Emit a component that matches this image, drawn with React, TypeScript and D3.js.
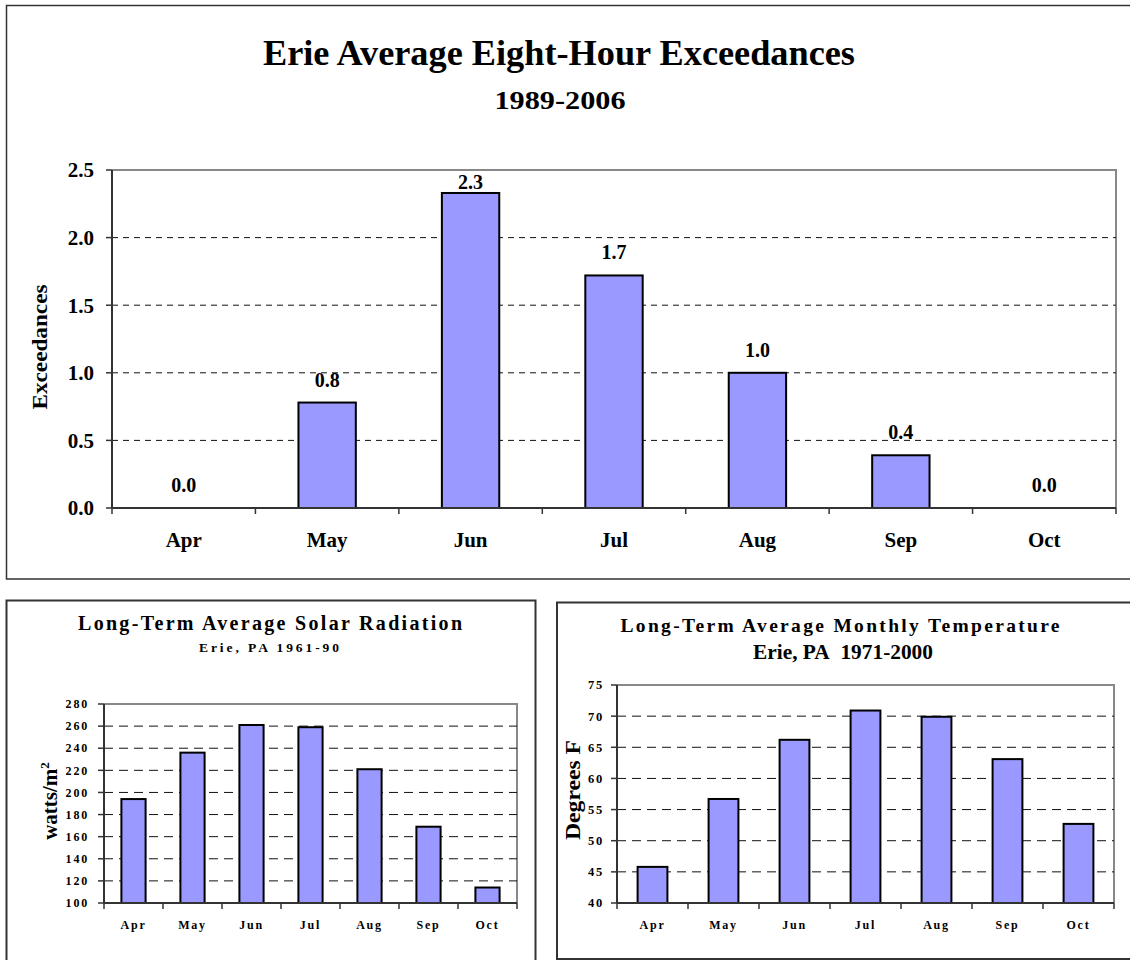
import React from "react";
import * as d3 from "d3";

const months = ["Apr", "May", "Jun", "Jul", "Aug", "Sep", "Oct"];
const exceedances = [0.0, 0.78, 2.33, 1.72, 1.0, 0.39, 0.0];
const exceedanceTicks = [0, 0.5, 1.0, 1.5, 2.0, 2.5];
const solar = [194, 236, 261, 259, 221, 169, 114];
const solarTicks = [100, 120, 140, 160, 180, 200, 220, 240, 260, 280];
const temperature = [45.8, 56.7, 66.2, 70.9, 69.9, 63.1, 52.7];
const temperatureTicks = [40, 45, 50, 55, 60, 65, 70, 75];

const FONT = "'Liberation Serif', 'Times New Roman', serif";
const BAR = "#9999FF";

type ChartProps = {
  values: number[];
  ticks: number[];
  fmt: (v: number) => string;
  plot: { l: number; r: number; t: number; b: number };
  barRatio: number;
  tickFont: number;
  tickSpacing: number;
  catFont: number;
  catY: number;
  tickLabelX: number;
  dash: string;
  barStroke: number;
  showValues?: boolean;
};

function Bars(p: ChartProps) {
  const x = d3.scaleBand<string>().domain(months).range([p.plot.l, p.plot.r]).paddingInner(0).paddingOuter(0);
  const y = d3.scaleLinear().domain([p.ticks[0], p.ticks[p.ticks.length - 1]]).range([p.plot.b, p.plot.t]);
  const bw = x.bandwidth() * p.barRatio;
  const boundaries = months.map((m) => x(m)!).concat([p.plot.r]);
  return (
    <g>
      <path d={`M${p.plot.l},${p.plot.t}H${p.plot.r}V${p.plot.b}`} fill="none" stroke="#888" strokeWidth={2} />
      {p.ticks.slice(1, -1).map((t) => (
        <line key={"g" + t} x1={p.plot.l} x2={p.plot.r} y1={y(t)} y2={y(t)} stroke="#111" strokeWidth={1} strokeDasharray={p.dash} />
      ))}
      {months.map((m, i) => {
        const v = p.values[i];
        const top = y(v);
        const h = p.plot.b - top;
        return h > 0 ? (
          <rect key={m} x={x(m)! + (x.bandwidth() - bw) / 2} y={top} width={bw} height={h} fill={BAR} stroke="#000" strokeWidth={p.barStroke} />
        ) : null;
      })}
      <line x1={p.plot.l} x2={p.plot.l} y1={p.plot.t} y2={p.plot.b} stroke="#333" strokeWidth={2} />
      {p.ticks.map((t) => (
        <g key={"t" + t}>
          <line x1={p.plot.l - 6} x2={p.plot.l} y1={y(t)} y2={y(t)} stroke="#333" strokeWidth={1.5} />
          <text x={p.tickLabelX} y={y(t)} dy="0.35em" textAnchor="end" fontFamily={FONT} fontWeight="bold" fontSize={p.tickFont} letterSpacing={p.tickSpacing}>
            {p.fmt(t)}
          </text>
        </g>
      ))}
      <line x1={p.plot.l} x2={p.plot.r} y1={p.plot.b} y2={p.plot.b} stroke="#333" strokeWidth={2} />
      {boundaries.map((bx, i) => (
        <line key={"xb" + i} x1={bx} x2={bx} y1={p.plot.b} y2={p.plot.b + 6} stroke="#333" strokeWidth={1.5} />
      ))}
      {months.map((m) => (
        <text key={"c" + m} x={x(m)! + x.bandwidth() / 2} y={p.catY} dy="0.35em" textAnchor="middle" fontFamily={FONT} fontWeight="bold" fontSize={p.catFont} letterSpacing={p.tickSpacing}>
          {m}
        </text>
      ))}
      {p.showValues &&
        months.map((m, i) => {
          const v = p.values[i];
          const ly = Math.max(y(v) - 16, p.plot.t + 19);
          return (
            <text key={"v" + m} x={x(m)! + x.bandwidth() / 2} y={ly} textAnchor="middle" fontFamily={FONT} fontWeight="bold" fontSize={20}>
              {d3.format(".1f")(v)}
            </text>
          );
        })}
    </g>
  );
}

export default function App() {
  return (
    <svg width={1130} height={960} style={{ position: "absolute", left: 0, top: 0, background: "#fff" }}>
      <rect x={0} y={0} width={1130} height={960} fill="#fff" />
      {/* Top chart */}
      <rect x={6.5} y={5.5} width={1140} height={573.5} fill="none" stroke="#333" strokeWidth={1.5} />
      <text x={559} y={65} textAnchor="middle" fontFamily={FONT} fontWeight="bold" fontSize={36} textLength={592} lengthAdjust="spacingAndGlyphs">
        Erie Average Eight-Hour Exceedances
      </text>
      <text x={560} y={109} textAnchor="middle" fontFamily={FONT} fontWeight="bold" fontSize={25} textLength={131} lengthAdjust="spacingAndGlyphs">
        1989-2006
      </text>
      <text transform="translate(47,347) rotate(-90)" textAnchor="middle" fontFamily={FONT} fontWeight="bold" fontSize={21} textLength={125} lengthAdjust="spacingAndGlyphs">
        Exceedances
      </text>
      <Bars
        values={exceedances}
        ticks={exceedanceTicks}
        fmt={d3.format(".1f")}
        plot={{ l: 112, r: 1116, t: 170, b: 508 }}
        barRatio={0.4}
        tickFont={21}
        tickSpacing={0}
        catFont={21}
        catY={540}
        tickLabelX={94}
        dash="6,5"
        barStroke={2}
        showValues
      />

      {/* Bottom-left chart */}
      <rect x={6.5} y={600.5} width={529} height={400} fill="none" stroke="#333" strokeWidth={2} />
      <text x={270} y={630} textAnchor="middle" fontFamily={FONT} fontWeight="bold" fontSize={20} textLength={384} lengthAdjust="spacing">
        Long-Term Average Solar Radiation
      </text>
      <text x={269} y={652} textAnchor="middle" fontFamily={FONT} fontWeight="bold" fontSize={13.5} textLength={140} lengthAdjust="spacing">
        Erie, PA 1961-90
      </text>
      <text transform="translate(57,801) rotate(-90)" textAnchor="middle" fontFamily={FONT} fontWeight="bold" fontSize={21}>
        watts/m<tspan dy="-8" fontSize={13}>2</tspan>
      </text>
      <Bars
        values={solar}
        ticks={solarTicks}
        fmt={(v) => String(v)}
        plot={{ l: 104, r: 517, t: 704, b: 903 }}
        barRatio={0.41}
        tickFont={12}
        tickSpacing={1.8}
        catFont={12}
        catY={925}
        tickLabelX={89}
        dash="9,6"
        barStroke={2}
      />

      {/* Bottom-right chart */}
      <rect x={557} y={602.5} width={600} height={356.5} fill="none" stroke="#333" strokeWidth={2} />
      <text x={840} y={632} textAnchor="middle" fontFamily={FONT} fontWeight="bold" fontSize={19.5} textLength={439} lengthAdjust="spacing">
        Long-Term Average Monthly Temperature
      </text>
      <text x={843} y={659} textAnchor="middle" fontFamily={FONT} fontWeight="bold" fontSize={20} textLength={180} lengthAdjust="spacingAndGlyphs" xmlSpace="preserve">
        {"Erie, PA\u00A0\u00A01971-2000"}
      </text>
      <text transform="translate(580,790) rotate(-90)" textAnchor="middle" fontFamily={FONT} fontWeight="bold" fontSize={20} textLength={100} lengthAdjust="spacingAndGlyphs">
        Degrees F
      </text>
      <Bars
        values={temperature}
        ticks={temperatureTicks}
        fmt={(v) => String(v)}
        plot={{ l: 617, r: 1114, t: 685, b: 903 }}
        barRatio={0.42}
        tickFont={12.5}
        tickSpacing={1.8}
        catFont={12}
        catY={925}
        tickLabelX={604}
        dash="9,6"
        barStroke={2}
      />
    </svg>
  );
}
